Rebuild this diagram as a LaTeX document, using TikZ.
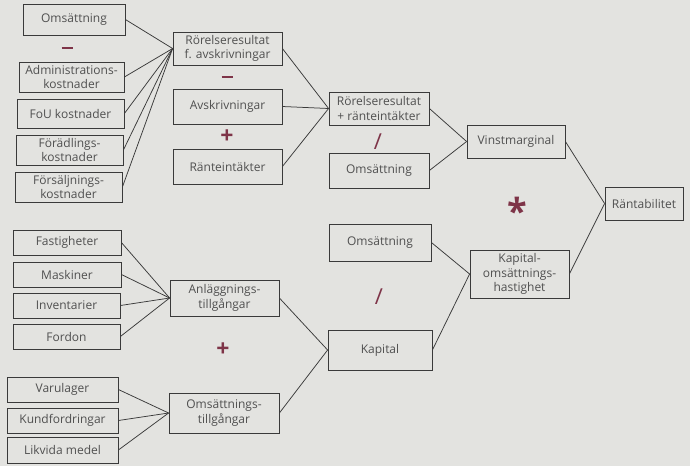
\documentclass[tikz,border=0pt]{standalone}
\usepackage{fontspec}
\setmainfont{Open Sans}
\definecolor{bg}{HTML}{E3E3E0}
\definecolor{txt}{HTML}{505050}
\definecolor{ln}{HTML}{3A3A3A}
\definecolor{op}{HTML}{7E3448}
\begin{document}
\begin{tikzpicture}[x=1pt,y=-1pt,
  box/.style={draw=ln, line width=0.8pt, fill=bg, inner sep=0pt, align=center,
    text=txt, font=\fontsize{12}{14.5}\selectfont},
  conn/.style={draw=ln, line width=0.75pt},
  opsym/.style={text=op, inner sep=0pt, font=\fontsize{22}{22}\selectfont}]
\fill[bg] (0,0) rectangle (690,466);
\useasboundingbox (0,0) rectangle (690,466);
% left column, top
\node[box, minimum width=102pt, minimum height=31pt] (oms1) at (74,19.5) {Omsättning};
\node[box, minimum width=105pt, minimum height=30pt] (adm) at (71.5,77) {Administrations-\\kostnader};
\node[box, minimum width=107pt, minimum height=29pt] (fou) at (70.5,113.5) {FoU kostnader};
\node[box, minimum width=107pt, minimum height=30pt] (forad) at (69.5,150) {Förädlings-\\kostnader};
\node[box, minimum width=107pt, minimum height=30pt] (forsal) at (68.5,187) {Försäljnings-\\kostnader};
% second column, top
\node[box, minimum width=109pt, minimum height=33pt] (rrfa) at (227.5,48.5) {Rörelseresultat\\f. avskrivningar};
\node[box, minimum width=109pt, minimum height=35pt] (avskr) at (227.5,106.5) {Avskrivningar};
\node[box, minimum width=109pt, minimum height=35pt] (rint) at (227.5,166.5) {Ränteintäkter};
% third column
\node[box, minimum width=100pt, minimum height=33pt] (rrpr) at (379,108.5) {Rörelseresultat\\+ ränteintäkter};
\node[box, minimum width=100pt, minimum height=35pt] (oms2) at (379,170.5) {Omsättning};
\node[box, minimum width=102pt, minimum height=37pt] (oms3) at (380,242.5) {Omsättning};
\node[box, minimum width=104pt, minimum height=40pt] (kap) at (380,350) {Kapital};
% fourth column
\node[box, minimum width=98pt, minimum height=33pt] (vinst) at (516,141.5) {Vinstmarginal};
\node[box, minimum width=99pt, minimum height=48pt] (kapoms) at (519.5,274) {Kapital-\\omsättnings-\\hastighet};
% fifth
\node[box, minimum width=78pt, minimum height=33pt] (rant) at (644,203.5) {Räntabilitet};
% left column, bottom
\node[box, minimum width=108pt, minimum height=25pt] (fast) at (67,242.5) {Fastigheter};
\node[box, minimum width=108pt, minimum height=25pt] (mask) at (67,274.5) {Maskiner};
\node[box, minimum width=107pt, minimum height=25pt] (inv) at (66.5,305.5) {Inventarier};
\node[box, minimum width=107pt, minimum height=25pt] (ford) at (66.5,336.5) {Fordon};
\node[box, minimum width=111pt, minimum height=25pt] (varu) at (62.5,389.5) {Varulager};
\node[box, minimum width=111pt, minimum height=25pt] (kund) at (62.5,420.5) {Kundfordringar};
\node[box, minimum width=111pt, minimum height=26pt] (likv) at (62.5,450) {Likvida medel};
% second column, bottom
\node[box, minimum width=109pt, minimum height=36pt] (anl) at (224.5,298) {Anläggnings-\\tillgångar};
\node[box, minimum width=110pt, minimum height=40pt] (omstg) at (224,413) {Omsättnings-\\tillgångar};
% operators
\node[opsym] (op1) at (67,48) {\rule{11pt}{1.8pt}};
\node[opsym] (op2) at (227,77) {\rule{11pt}{1.8pt}};
\node[opsym, font=\fontsize{23}{23}\selectfont\bfseries] (op3) at (227,137) {+};
\node[opsym] (op4) at (378,142) {/};
\node[opsym, font=\fontsize{36}{36}\selectfont\bfseries] (op5) at (517,211) {*};
\node[opsym] (op6) at (379,297) {/};
\node[opsym, font=\fontsize{23}{23}\selectfont\bfseries] (op7) at (223,350) {+};
% connectors
\foreach \s in {oms1,adm,fou,forad,forsal}
  \draw[conn] (\s.east) -- (rrfa.west);
\foreach \s in {rrfa,avskr,rint}
  \draw[conn] (\s.east) -- (rrpr.west);
\foreach \s in {rrpr,oms2}
  \draw[conn] (\s.east) -- (vinst.west);
\foreach \s in {vinst,kapoms}
  \draw[conn] (\s.east) -- (rant.west);
\foreach \s in {fast,mask,inv,ford}
  \draw[conn] (\s.east) -- (anl.west);
\foreach \s in {varu,kund,likv}
  \draw[conn] (\s.east) -- (omstg.west);
\foreach \s in {anl,omstg}
  \draw[conn] (\s.east) -- (kap.west);
\foreach \s in {oms3,kap}
  \draw[conn] (\s.east) -- (kapoms.west);
\end{tikzpicture}
\end{document}
